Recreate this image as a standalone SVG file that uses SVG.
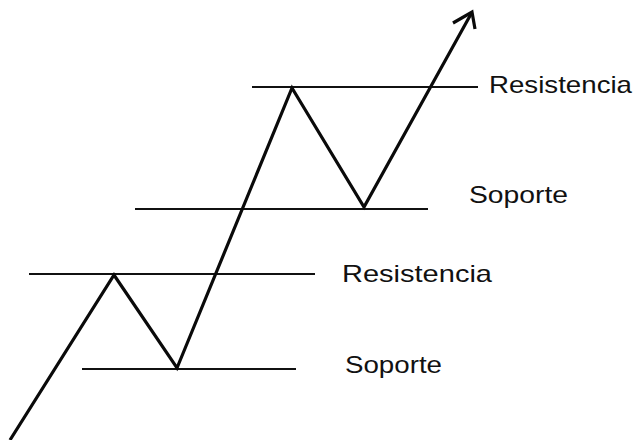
<svg xmlns="http://www.w3.org/2000/svg" width="637" height="440" viewBox="0 0 637 440">
<style>
.lvl{stroke:#111;stroke-width:2;fill:none}
.price{stroke:#0a0a0a;stroke-width:3.2;fill:none;stroke-linejoin:miter;stroke-linecap:butt}
.lbl{font-family:"Liberation Sans",Arial,sans-serif;font-size:24px;fill:#111}
</style>
<rect width="637" height="440" fill="#fff"/>
<g id="levels">
<g id="res-top"><line class="lvl" x1="252" y1="87" x2="478" y2="87"/><text class="lbl" x="489" y="93" textLength="143" lengthAdjust="spacingAndGlyphs">Resistencia</text></g>
<g id="sop-top"><line class="lvl" x1="135" y1="209" x2="428" y2="209"/><text class="lbl" x="469" y="203" textLength="99" lengthAdjust="spacingAndGlyphs">Soporte</text></g>
<g id="res-bottom"><line class="lvl" x1="29" y1="274" x2="315" y2="274"/><text class="lbl" x="342" y="282" textLength="150" lengthAdjust="spacingAndGlyphs">Resistencia</text></g>
<g id="sop-bottom"><line class="lvl" x1="82" y1="369" x2="296" y2="369"/><text class="lbl" x="345" y="373" textLength="97" lengthAdjust="spacingAndGlyphs">Soporte</text></g>
</g>
<g id="connectors">
<polyline class="price" points="10,440 114,275 177,368 292,88 364,207 471,14"/>
<polyline class="price" points="453,23 472,12 475,29" stroke-width="3"/>
</g>
</svg>
